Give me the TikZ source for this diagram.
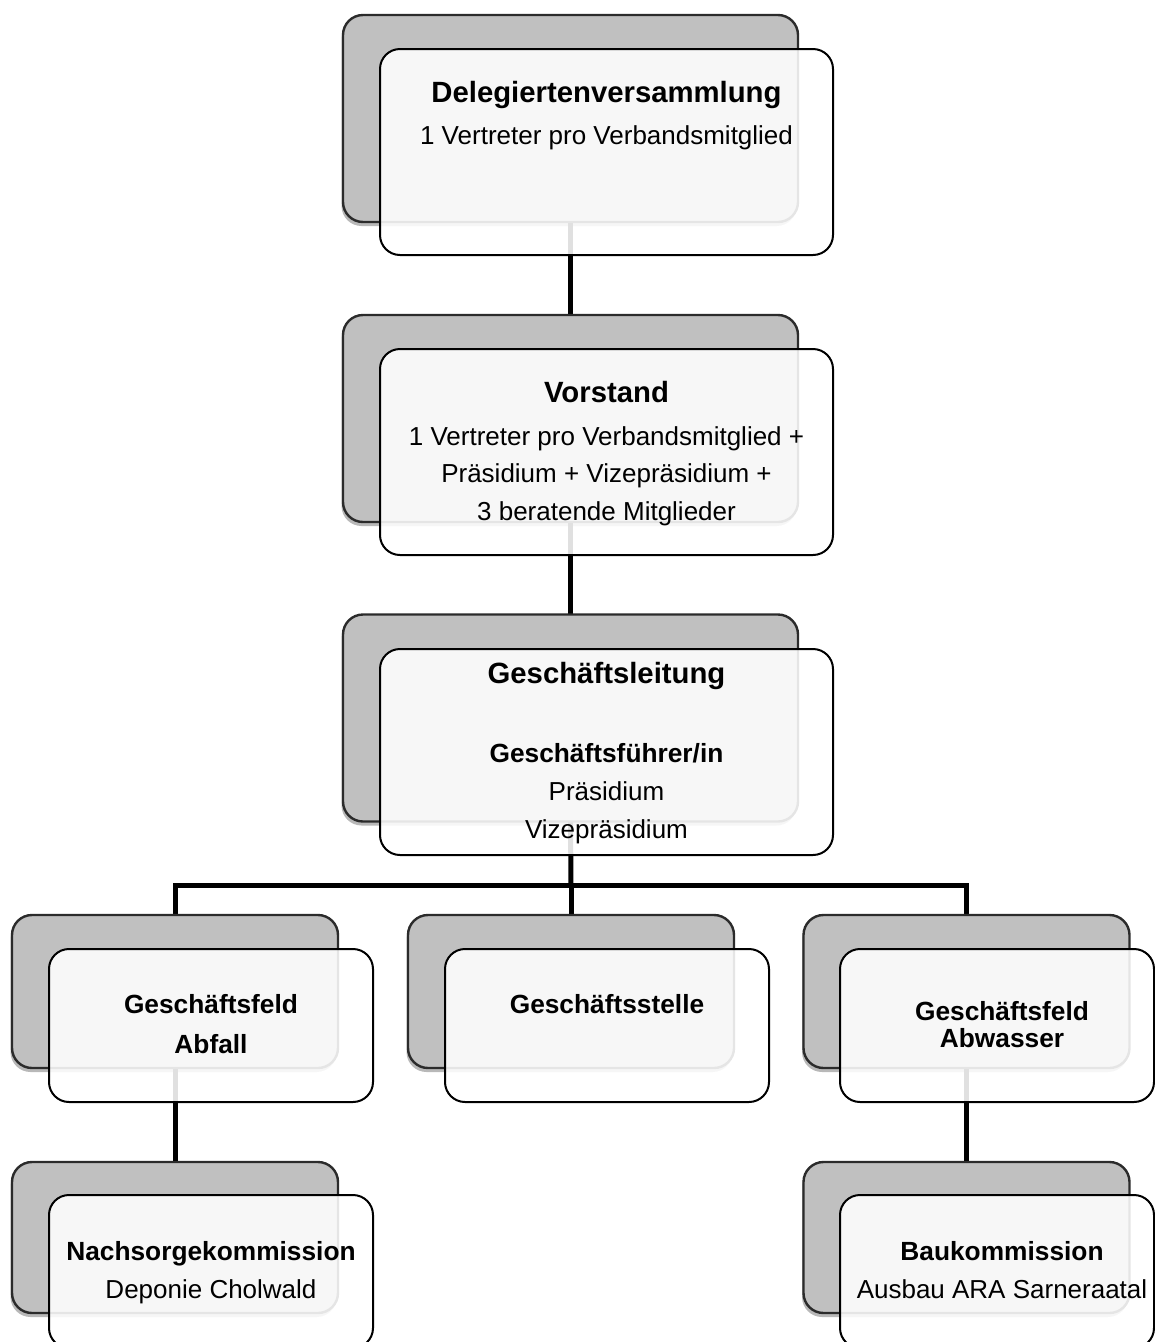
\documentclass[tikz,border=0pt]{standalone}
\usepackage{fontspec}
\setmainfont{Liberation Sans}
\usetikzlibrary{shadows}
\pgfdeclarelayer{bg}
\pgfsetlayers{bg,main}
\definecolor{backgray}{HTML}{C0C0C0}
\definecolor{backline}{HTML}{2B2B2B}
\tikzset{
  graybox/.style={rectangle, rounded corners=20pt, draw=backline, line width=2.4pt,
    fill=backgray, inner sep=0pt, outer sep=0pt,
    drop shadow={shadow xshift=-1.5pt, shadow yshift=-4pt, opacity=0.28, fill=black}},
  frontbox/.style={rectangle, rounded corners=20pt, draw=black, line width=2pt,
    fill=white, fill opacity=0.88, draw opacity=1, inner sep=0pt, outer sep=0pt},
  bigbox/.style={minimum width=455pt, minimum height=207pt},
  bigfront/.style={minimum width=453pt, minimum height=206pt},
  smallbox/.style={minimum width=326pt, minimum height=153pt},
  smallfront/.style={minimum width=324pt, minimum height=153pt},
  rightfront/.style={minimum width=314pt, minimum height=153pt},
  txt/.style={anchor=base, inner sep=0pt, text=black},
  headA/.style={txt, font=\bfseries\fontsize{29.3}{35}\selectfont},
  headB/.style={txt, font=\bfseries\fontsize{26.3}{31}\selectfont},
  plain/.style={txt, font=\fontsize{26}{31}\selectfont},
  conn/.style={draw=black, line width=5pt, line join=miter}
}
\begin{document}
\begin{tikzpicture}[x=1pt, y=-1pt]
\useasboundingbox (0,0) rectangle (1155,1342);
% back (gray) boxes and front boxes
\node[graybox, bigbox] (g1) at (570.5,118.5) {};
\node[frontbox, bigfront] (f1) at (606.5,152) {};
\node[graybox, bigbox] (g2) at (570.5,418.5) {};
\node[frontbox, bigfront] (f2) at (606.5,452) {};
\node[graybox, bigbox] (g3) at (570.5,718) {};
\node[frontbox, bigfront] (f3) at (606.5,752) {};
\node[graybox, smallbox] (g4) at (175,991.5) {};
\node[frontbox, smallfront] (f4) at (211,1025.5) {};
\node[graybox, smallbox] (g5) at (571,991.5) {};
\node[frontbox, smallfront] (f5) at (607,1025.5) {};
\node[graybox, smallbox] (g6) at (966.5,991.5) {};
\node[frontbox, rightfront] (f6) at (997,1025.5) {};
\node[graybox, smallbox, minimum height=151pt] (g7) at (175,1237.5) {};
\node[frontbox, smallfront] (f7) at (211,1271.5) {};
\node[graybox, smallbox, minimum height=151pt] (g8) at (966.5,1237.5) {};
\node[frontbox, rightfront] (f8) at (997,1271.5) {};
% texts
\node[headA] (t1a) at (606.5,102) {Delegiertenversammlung};
\node[plain] (t1b) at (606.5,144) {1 Vertreter pro Verbandsmitglied};
\node[headA] (t2a) at (606.5,402) {Vorstand};
\node[plain] (t2b) at (606.5,445) {1 Vertreter pro Verbandsmitglied +};
\node[plain] (t2c) at (606.5,482) {Präsidium + Vizepräsidium +};
\node[plain] (t2d) at (606.5,520) {3 beratende Mitglieder};
\node[headA] (t3a) at (606.5,683) {Geschäftsleitung};
\node[headB] (t3b) at (606.5,762) {Geschäftsführer/in};
\node[plain] (t3c) at (606.5,800) {Präsidium};
\node[plain] (t3d) at (606.5,838) {Vizepräsidium};
\node[headB] (t4a) at (211,1013) {Geschäftsfeld};
\node[headB] (t4b) at (211,1053) {Abfall};
\node[headB] (t5a) at (607,1013) {Geschäftsstelle};
\node[headB] (t6a) at (1002,1020) {Geschäftsfeld};
\node[headB] (t6b) at (1002,1047) {Abwasser};
\node[headB] (t7a) at (211,1260) {Nachsorgekommission};
\node[plain] (t7b) at (211,1298) {Deponie Cholwald};
\node[headB] (t8a) at (1002,1260) {Baukommission};
\node[plain] (t8b) at (1002,1298) {Ausbau ARA Sarneraatal};
% connectors (behind the boxes)
\coordinate (bus) at (571,885);
\begin{pgfonlayer}{bg}
\draw[conn] (g1.south) -- (g2.north);
\draw[conn] (g2.south) -- (g3.north);
\draw[conn] (g3.south) -- (bus);
\draw[conn] (g4.north) -- (g4.north |- bus) -- (g6.north |- bus) -- (g6.north);
\draw[conn] (bus) -- (g5.north);
\draw[conn] (g4.south) -- (g7.north);
\draw[conn] (g6.south) -- (g8.north);
\end{pgfonlayer}
\end{tikzpicture}
\end{document}
